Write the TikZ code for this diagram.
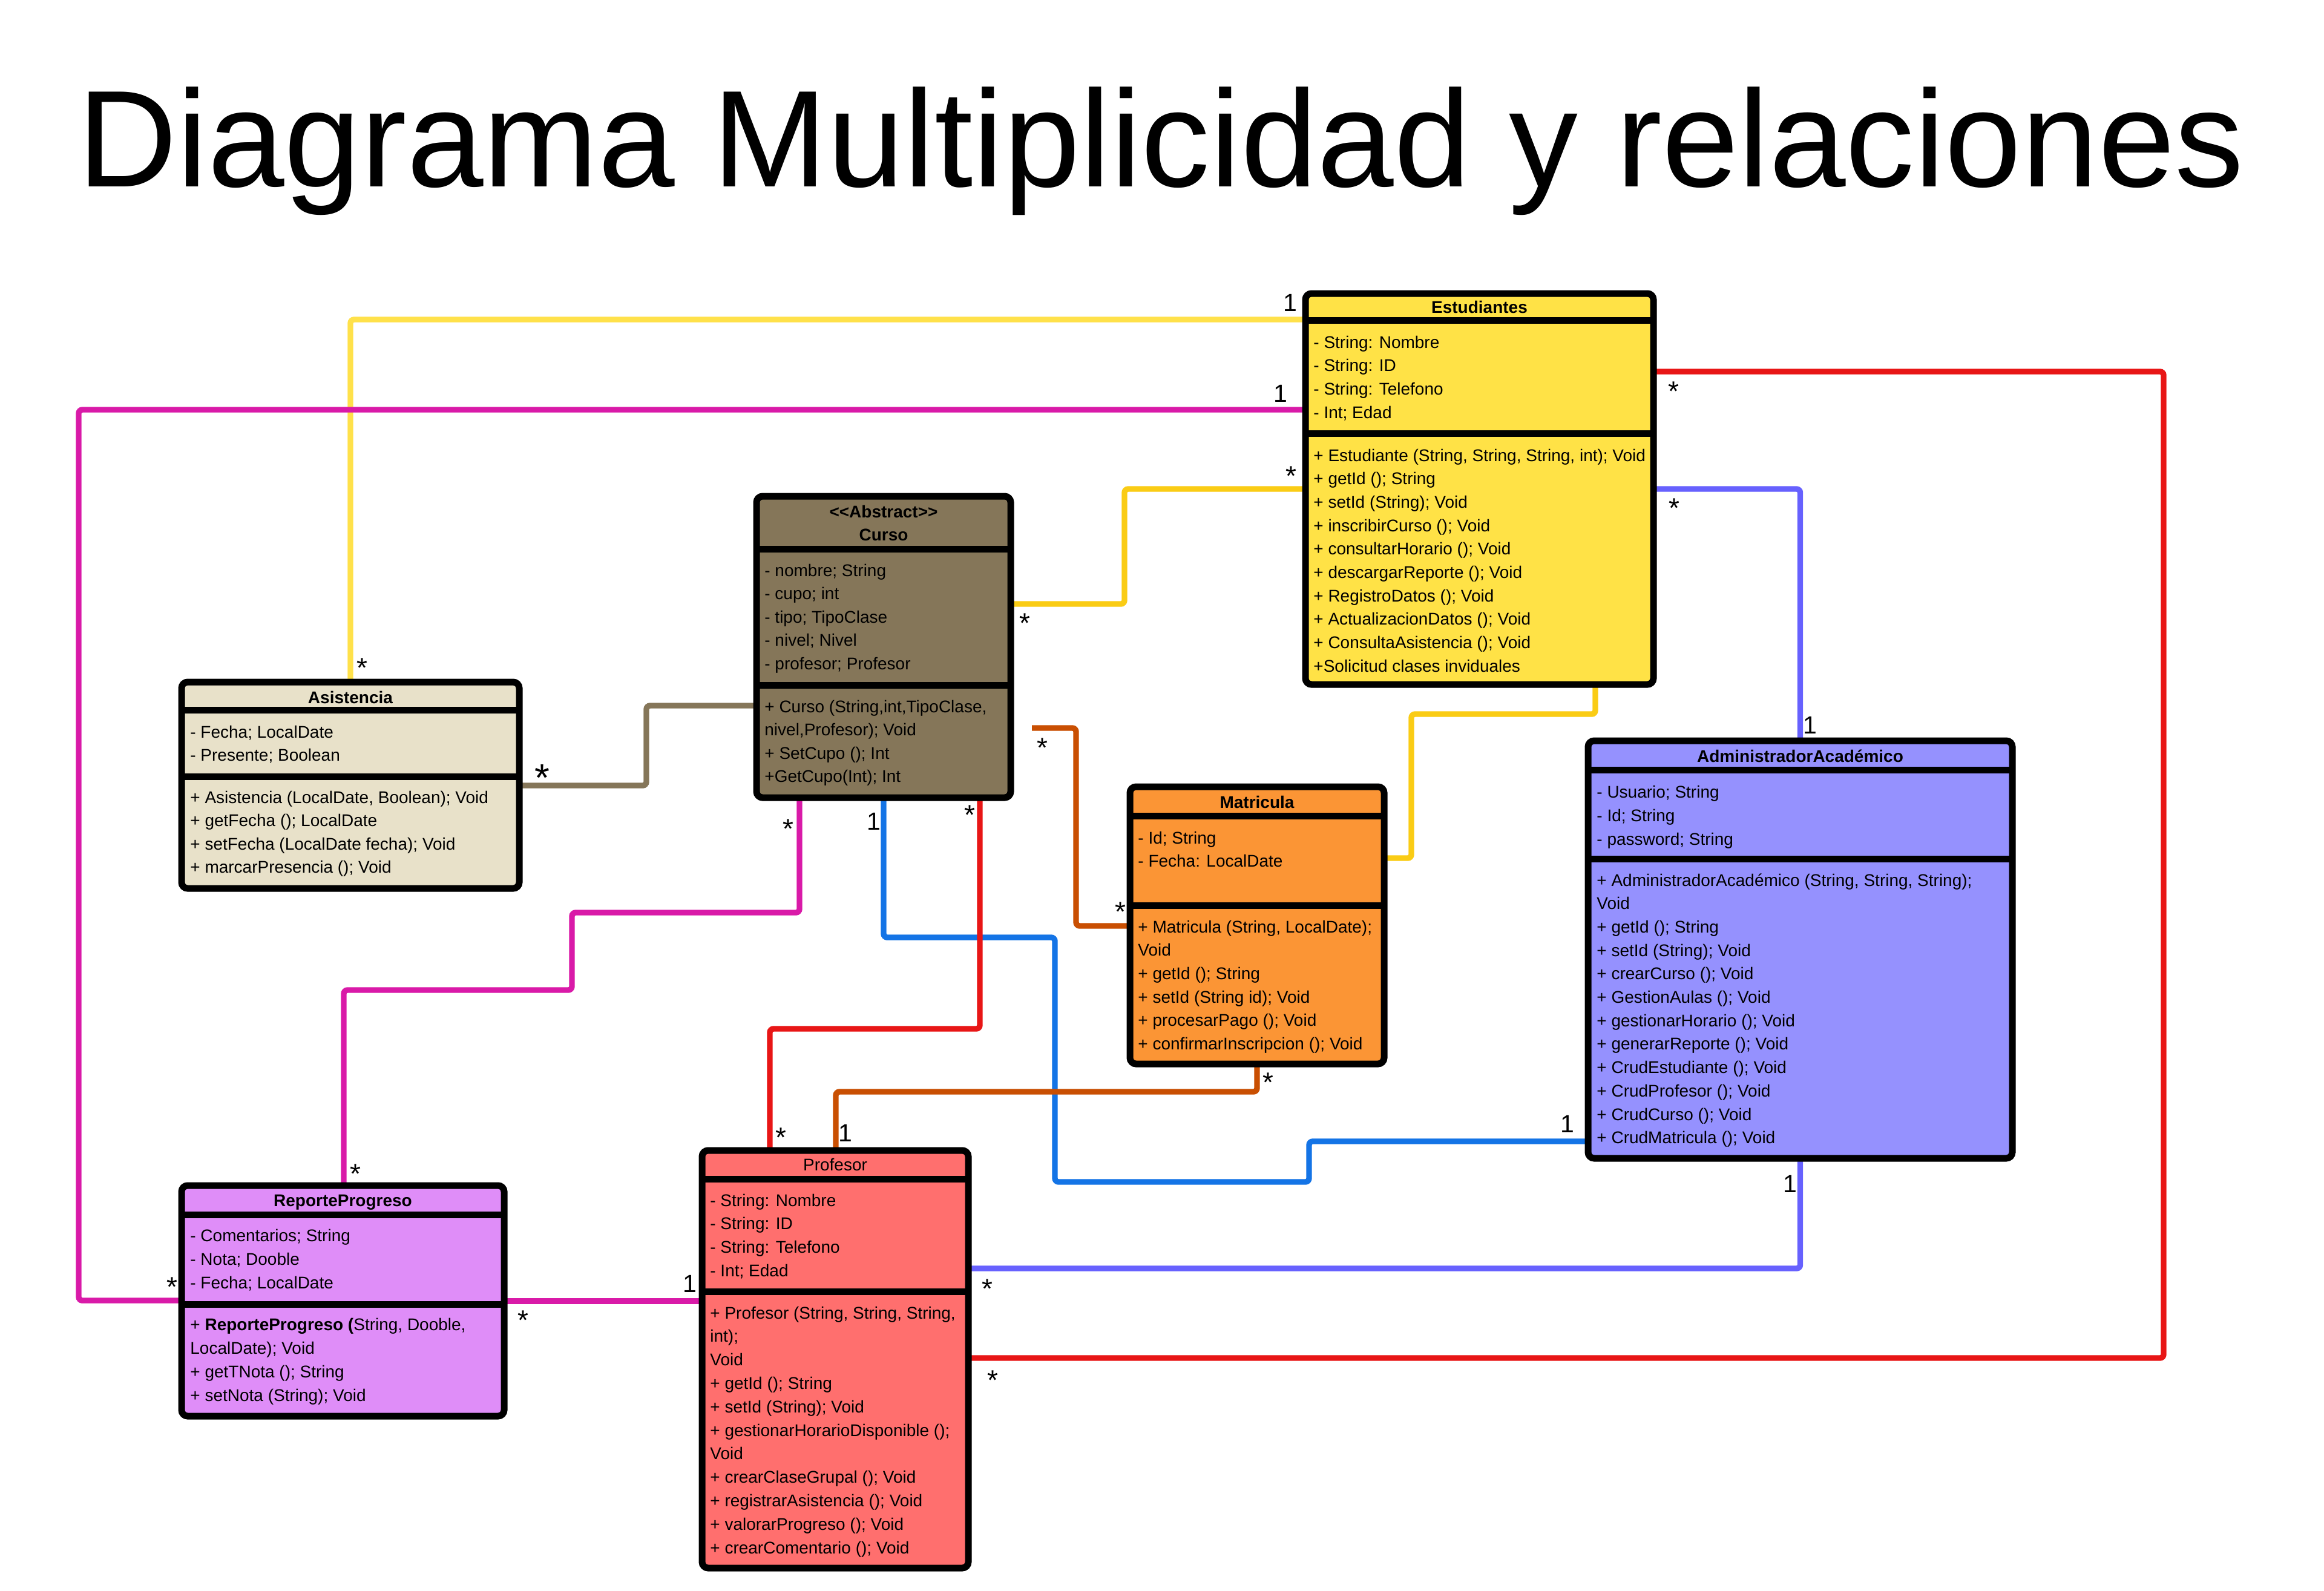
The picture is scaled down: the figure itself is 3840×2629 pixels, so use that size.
\documentclass[tikz,border=0pt]{standalone}
\usepackage{fontspec}
\setmainfont{Liberation Sans}
\usetikzlibrary{backgrounds}
\definecolor{estY}{HTML}{FFE246}
\definecolor{cursoB}{HTML}{857659}
\definecolor{asisB}{HTML}{E8E1C9}
\definecolor{matO}{HTML}{FB9535}
\definecolor{admV}{HTML}{9591FE}
\definecolor{repP}{HTML}{DF8DF8}
\definecolor{profR}{HTML}{FF6F6E}
\definecolor{lnYel}{HTML}{FFE14A}
\definecolor{lnGold}{HTML}{FACC15}
\definecolor{lnMag}{HTML}{D91AA8}
\definecolor{lnBrown}{HTML}{857659}
\definecolor{lnBlue}{HTML}{1474E6}
\definecolor{lnRed}{HTML}{E81616}
\definecolor{lnOrg}{HTML}{C94F02}
\definecolor{lnVio}{HTML}{6761FE}
\begin{document}
\begin{tikzpicture}[x=0.5pt,y=-0.5pt,
  cn/.style={line width=4.7pt, rounded corners=3pt},
  box/.style={draw=black, line width=5.5pt, rounded corners=5pt, anchor=north west, inner sep=0pt, outer sep=0pt},
  sepl/.style={line width=5.5pt, draw=black},
  txt/.style={anchor=base west, inner sep=0pt, font=\fontsize{14pt}{17pt}\selectfont},
  ttl/.style={anchor=base, inner sep=0pt, font=\fontsize{14pt}{17pt}\selectfont\bfseries},
  lblone/.style={inner sep=0pt, font=\fontsize{20.5pt}{22pt}\selectfont},
  lblstar/.style={inner sep=0pt, font=\fontsize{23pt}{25pt}\selectfont, yshift=-5pt},
  lblbig/.style={inner sep=0pt, font=\fontsize{32pt}{34pt}\selectfont, yshift=-7pt}]
\useasboundingbox (0,0) rectangle (3840,2629);

\node[anchor=base west, inner sep=0pt, font=\fontsize{113.8pt}{120pt}\selectfont] (title) at (128,308) {Diagrama Multiplicidad y relaciones};

% ---------- boxes ----------
\node[box, fill=estY, minimum width=287.5pt, minimum height=323pt] (est) at (2157,485) {};
\node[box, fill=cursoB, minimum width=210pt, minimum height=249pt] (curso) at (1250,820) {};
\node[box, fill=asisB, minimum width=279pt, minimum height=170.5pt] (asis) at (300,1127) {};
\node[box, fill=matO, minimum width=210pt, minimum height=229pt] (mat) at (1867,1300) {};
\node[box, fill=admV, minimum width=350.5pt, minimum height=345pt] (admin) at (2624,1224) {};
\node[box, fill=repP, minimum width=266.5pt, minimum height=190.5pt] (rep) at (300,1959) {};
\node[box, fill=profR, minimum width=220pt, minimum height=345pt] (prof) at (1160,1901) {};

% separators
\draw[sepl] (est.west |- 0,529) -- (est.east |- 0,529);
\draw[sepl] (est.west |- 0,716) -- (est.east |- 0,716);
\draw[sepl] (curso.west |- 0,907) -- (curso.east |- 0,907);
\draw[sepl] (curso.west |- 0,1132) -- (curso.east |- 0,1132);
\draw[sepl] (asis.west |- 0,1173) -- (asis.east |- 0,1173);
\draw[sepl] (asis.west |- 0,1283) -- (asis.east |- 0,1283);
\draw[sepl] (mat.west |- 0,1348) -- (mat.east |- 0,1348);
\draw[sepl] (mat.west |- 0,1496) -- (mat.east |- 0,1496);
\draw[sepl] (admin.west |- 0,1272) -- (admin.east |- 0,1272);
\draw[sepl] (admin.west |- 0,1419) -- (admin.east |- 0,1419);
\draw[sepl] (rep.west |- 0,2007) -- (rep.east |- 0,2007);
\draw[sepl] (rep.west |- 0,2155) -- (rep.east |- 0,2155);
\draw[sepl] (prof.west |- 0,1948) -- (prof.east |- 0,1948);
\draw[sepl] (prof.west |- 0,2134) -- (prof.east |- 0,2134);

% ---------- connectors (behind boxes) ----------
\coordinate (c8s) at (1705,1203);
\begin{scope}[on background layer]
\fill[white] (0,0) rectangle (3840,2629);
\draw[cn, lnYel]   (est.west |- 0,528) -| (asis.north);
\draw[cn, lnMag]   (est.west |- 0,677) -| (130,2149) -- (rep.west |- 0,2149);
\draw[cn, lnGold]  (curso.east |- 0,998) -| (1858,808) -- (est.west |- 0,808);
\draw[cn, lnBrown] (asis.east |- 0,1298) -| (1068,1166) -- (curso.west |- 0,1166);
\draw[cn, lnMag]   (curso.south -| 1321,0) |- (945,1508) |- (568,1636) -- (rep.north -| 568,0);
\draw[cn, lnBlue]  (curso.south -| 1460,0) |- (1743,1549) |- (2163,1953) |- (admin.west |- 0,1886);
\draw[cn, lnRed]   (curso.south -| 1619,0) |- (1272,1700) -- (prof.north -| 1272,0);
\draw[cn, lnOrg]   (c8s) -| (1778,1530) -- (mat.west |- 0,1530);
\draw[cn, lnOrg]   (mat.south) |- (1381,1804) -- (prof.north -| 1381,0);
\draw[cn, lnGold]  (est.south -| 2636,0) |- (2332,1180) |- (mat.east |- 0,1418);
\draw[cn, lnRed]   (est.east |- 0,614) -| (3575,2244) -- (prof.east |- 0,2244);
\draw[cn, lnVio]   (est.east |- 0,808) -| (admin.north);
\draw[cn, lnVio]   (admin.south) |- (prof.east |- 0,2096);
\draw[cn, lnMag]   (rep.east |- 0,2150) -- (prof.west |- 0,2150);
\end{scope}

% ---------- multiplicity labels ----------
\node[lblone] (m1) at (2132,500) {1};
\node[lblone] (m2) at (2116,650) {1};
\node[lblone] (m3) at (1444,1357) {1};
\node[lblone] (m4) at (2590,1857) {1};
\node[lblone] (m5) at (1397,1872) {1};
\node[lblone] (m6) at (2991,1198) {1};
\node[lblone] (m7) at (2958,1956) {1};
\node[lblone] (m8) at (1140,2121) {1};
\node[lblstar] (s1) at (598,1094) {*};
\node[lblstar] (s2) at (284,2117) {*};
\node[lblstar] (s3) at (1693,1020) {*};
\node[lblstar] (s4) at (2133,777) {*};
\node[lblstar] (s5) at (1302,1360) {*};
\node[lblstar] (s6) at (587,1930) {*};
\node[lblstar] (s7) at (1602,1337) {*};
\node[lblstar] (s8) at (1290,1870) {*};
\node[lblstar] (s9) at (1722,1226) {*};
\node[lblstar] (s10) at (1851,1497) {*};
\node[lblstar] (s11) at (2095,1779) {*};
\node[lblstar] (s12) at (2765,637) {*};
\node[lblstar] (s13) at (1640,2271) {*};
\node[lblstar] (s14) at (2766,830) {*};
\node[lblstar] (s15) at (1631,2120) {*};
\node[lblstar] (s16) at (864,2172) {*};
\node[lblbig] (s17) at (896,1271) {*};

% ---------- Estudiantes ----------
\node[ttl] (est-t) at (2444.5,517) {Estudiantes};
\foreach \t [count=\i from 0] in {{- String: Nombre},{- String: ID},{- String: Telefono},{- Int; Edad}}
  \node[txt] (est-a\i) at (2170,575+38.7*\i) {\t};
\foreach \t [count=\i from 0] in {{+ Estudiante (String, String, String, int); Void},{+ getId (); String},{+ setId (String); Void},{+ inscribirCurso (); Void},{+ consultarHorario (); Void},{+ descargarReporte (); Void},{+ RegistroDatos (); Void},{+ ActualizacionDatos (); Void},{+ ConsultaAsistencia (); Void},{+Solicitud clases inviduales}}
  \node[txt] (est-m\i) at (2170,762+38.67*\i) {\t};

% ---------- Curso ----------
\node[ttl] (cur-t1) at (1460,855) {{<}{<}Abstract{>}{>}};
\node[ttl] (cur-t2) at (1460,893) {Curso};
\foreach \t [count=\i from 0] in {{- nombre; String},{- cupo; int},{- tipo; TipoClase},{- nivel; Nivel},{- profesor; Profesor}}
  \node[txt] (cur-a\i) at (1263,952+38.5*\i) {\t};
\foreach \t [count=\i from 0] in {{+ Curso (String,int,TipoClase,},{nivel,Profesor); Void},{+ SetCupo (); Int},{+GetCupo(Int); Int}}
  \node[txt] (cur-m\i) at (1263,1177+38.5*\i) {\t};

% ---------- Asistencia ----------
\node[ttl] (asi-t) at (579,1162) {Asistencia};
\foreach \t [count=\i from 0] in {{- Fecha; LocalDate},{- Presente; Boolean}}
  \node[txt] (asi-a\i) at (314,1219+38.5*\i) {\t};
\foreach \t [count=\i from 0] in {{+ Asistencia (LocalDate, Boolean); Void},{+ getFecha (); LocalDate},{+ setFecha (LocalDate fecha); Void},{+ marcarPresencia (); Void}}
  \node[txt] (asi-m\i) at (314,1327+38.6*\i) {\t};

% ---------- Matricula ----------
\node[ttl] (mat-t) at (2077,1335) {Matricula};
\foreach \t [count=\i from 0] in {{- Id; String},{- Fecha: LocalDate}}
  \node[txt] (mat-a\i) at (1880,1394+38.6*\i) {\t};
\foreach \t [count=\i from 0] in {{+ Matricula (String, LocalDate);},{Void},{+ getId (); String},{+ setId (String id); Void},{+ procesarPago (); Void},{+ confirmarInscripcion (); Void}}
  \node[txt] (mat-m\i) at (1880,1541+38.7*\i) {\t};

% ---------- AdministradorAcademico ----------
\node[ttl] (adm-t) at (2974.5,1259) {AdministradorAcadémico};
\foreach \t [count=\i from 0] in {{- Usuario; String},{- Id; String},{- password; String}}
  \node[txt] (adm-a\i) at (2638,1318+39*\i) {\t};
\foreach \t [count=\i from 0] in {{+ AdministradorAcadémico (String, String, String);},{Void},{+ getId (); String},{+ setId (String); Void},{+ crearCurso (); Void},{+ GestionAulas (); Void},{+ gestionarHorario (); Void},{+ generarReporte (); Void},{+ CrudEstudiante (); Void},{+ CrudProfesor (); Void},{+ CrudCurso (); Void},{+ CrudMatricula (); Void}}
  \node[txt] (adm-m\i) at (2638,1464+38.7*\i) {\t};

% ---------- ReporteProgreso ----------
\node[ttl] (rep-t) at (566.5,1993) {ReporteProgreso};
\foreach \t [count=\i from 0] in {{- Comentarios; String},{- Nota; Dooble},{- Fecha; LocalDate}}
  \node[txt] (rep-a\i) at (314,2051+39*\i) {\t};
\foreach \t [count=\i from 0] in {{+ \textbf{ReporteProgreso (}String, Dooble,},{LocalDate); Void},{+ getTNota (); String},{+ setNota (String); Void}}
  \node[txt] (rep-m\i) at (314,2198+39*\i) {\t};

% ---------- Profesor ----------
\node[ttl, font=\fontsize{14pt}{17pt}\selectfont] (pro-t) at (1380,1934) {Profesor};
\foreach \t [count=\i from 0] in {{- String: Nombre},{- String: ID},{- String: Telefono},{- Int; Edad}}
  \node[txt] (pro-a\i) at (1173,1993+38.9*\i) {\t};
\foreach \t [count=\i from 0] in {{+ Profesor (String, String, String,},{int);},{Void},{+ getId (); String},{+ setId (String); Void},{+ gestionarHorarioDisponible ();},{Void},{+ crearClaseGrupal (); Void},{+ registrarAsistencia (); Void},{+ valorarProgreso (); Void},{+ crearComentario (); Void}}
  \node[txt] (pro-m\i) at (1173,2179+38.8*\i) {\t};
\end{tikzpicture}
\end{document}
